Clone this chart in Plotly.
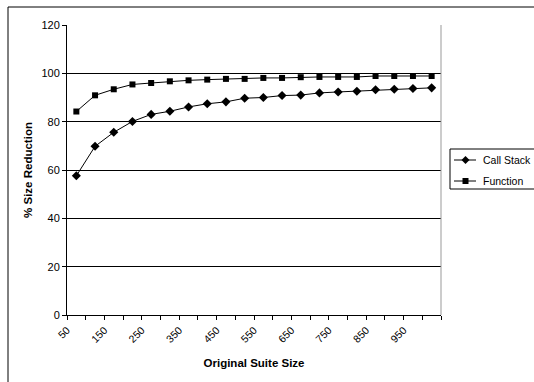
import plotly.graph_objects as go

suite_sizes = [50, 100, 150, 200, 250, 300, 350, 400, 450, 500,
               550, 600, 650, 700, 750, 800, 850, 900, 950, 1000]
call_stack = [57.6, 69.8, 75.6, 80.1, 83.0, 84.3, 86.1, 87.4, 88.2, 89.7,
              90.0, 90.8, 91.0, 91.9, 92.3, 92.6, 93.2, 93.4, 93.7, 94.0]
function = [84.2, 90.9, 93.4, 95.4, 96.0, 96.7, 97.1, 97.4, 97.7, 97.7,
            98.1, 98.1, 98.4, 98.5, 98.5, 98.5, 98.9, 98.9, 98.9, 98.9]
x_tick_labels = ["50", "150", "250", "350", "450", "550", "650", "750", "850", "950"]
series_names = ["Call Stack", "Function"]

font_family = "Liberation Sans, Arial, sans-serif"

W, H = 534, 382
ML, MR, MT, MB = 67, 93, 25, 67
PW, PH = W - ML - MR, H - MT - MB


def px(x):
    return (x - ML) / PW


def py(y):
    return (H - MB - y) / PH


fig = go.Figure()
fig.add_trace(go.Scatter(
    x=suite_sizes, y=call_stack, name=series_names[0], mode="lines+markers",
    line=dict(color="black", width=1),
    marker=dict(symbol="diamond", size=7, color="black"),
))
fig.add_trace(go.Scatter(
    x=suite_sizes, y=function, name=series_names[1], mode="lines+markers",
    line=dict(color="black", width=1),
    marker=dict(symbol="square", size=6, color="black"),
))

# category boundaries for ticks; label every second boundary
step = suite_sizes[1] - suite_sizes[0]
bounds = [v - step / 2 for v in suite_sizes] + [suite_sizes[-1] + step / 2]
tick_text = []
for i in range(len(bounds)):
    tick_text.append(x_tick_labels[i // 2] if i % 2 == 0 and i // 2 < len(x_tick_labels) else "")

shapes = [
    # plot-area right border (grey)
    dict(type="line", xref="paper", yref="paper", x0=1, x1=1, y0=0, y1=1,
         line=dict(color="#999999", width=1)),
    # outer chart border (left and top visible)
    dict(type="line", xref="paper", yref="paper", x0=px(8), x1=px(8), y0=py(7), y1=py(400),
         line=dict(color="black", width=1)),
    dict(type="line", xref="paper", yref="paper", x0=px(8), x1=px(560), y0=py(7), y1=py(7),
         line=dict(color="black", width=1)),
    # legend box
    dict(type="rect", xref="paper", yref="paper", x0=px(450), x1=px(560), y0=py(189), y1=py(149),
         line=dict(color="black", width=1), fillcolor="white", layer="above"),
]
annotations = []
legend_rows = [160, 181]
for name, ry, sym in zip(series_names, legend_rows, ["diamond", "square"]):
    shapes.append(dict(type="line", xref="paper", yref="paper", x0=px(454), x1=px(476),
                       y0=py(ry), y1=py(ry), line=dict(color="black", width=1), layer="above"))
    if sym == "diamond":
        path = "M 0 4 L 4 0 L 0 -4 L -4 0 Z"
    else:
        path = "M -3 -3 L 3 -3 L 3 3 L -3 3 Z"
    shapes.append(dict(type="path", xref="paper", yref="paper",
                       xsizemode="pixel", ysizemode="pixel",
                       xanchor=px(465.5), yanchor=py(ry), path=path,
                       fillcolor="black", line=dict(color="black", width=0), layer="above"))
    annotations.append(dict(xref="paper", yref="paper", x=px(481), y=py(ry),
                            xanchor="left", yanchor="middle", text=name, showarrow=False,
                            font=dict(size=10.5, color="black", family=font_family)))

fig.update_layout(
    width=W, height=H,
    margin=dict(l=ML, r=MR, t=MT, b=MB, autoexpand=False),
    paper_bgcolor="white", plot_bgcolor="white",
    font=dict(family=font_family, size=11, color="black"),
    showlegend=False,
    xaxis=dict(
        range=[bounds[0], bounds[-1]],
        tickmode="array", tickvals=bounds, ticktext=tick_text,
        tickangle=-45, ticks="outside", ticklen=4, tickcolor="black",
        tickfont=dict(size=10.5),
        showgrid=False, showline=True, linecolor="black", linewidth=1,
        zeroline=False,
        title=dict(text="<b>Original Suite Size</b>", font=dict(size=11.5), standoff=15),
    ),
    yaxis=dict(
        range=[0, 120], dtick=20, tick0=0,
        ticks="outside", ticklen=4, tickcolor="black",
        showgrid=True, gridcolor="black", gridwidth=1,
        showline=True, linecolor="black", linewidth=1, zeroline=False,
        title=dict(text="<b>% Size Reduction</b>", font=dict(size=11.5), standoff=6),
    ),
    shapes=shapes,
    annotations=annotations,
)

fig.write_html("out.html")
